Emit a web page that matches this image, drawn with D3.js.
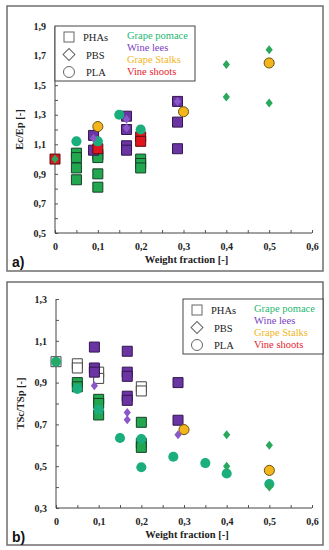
<!DOCTYPE html>
<html>
<head>
<meta charset="utf-8">
<script src="https://cdn.jsdelivr.net/npm/d3@7"></script>
<style>
  body { margin: 0; background: #fff; }
  svg { display: block; }
  .tick text { font-family: "Liberation Serif", serif; font-weight: bold; font-size: 10px; fill: #222; }
  .lbl { font-family: "Liberation Serif", serif; font-weight: bold; font-size: 10.5px; fill: #222; }
</style>
</head>
<body>
<div id="chart"></div>
<script>
// ---- data ----
const xTicks = [0, 0.1, 0.2, 0.3, 0.4, 0.5, 0.6];
const yTicksA = [0.5, 0.7, 0.9, 1.1, 1.3, 1.5, 1.7, 1.9];
const yTicksB = [0.3, 0.5, 0.7, 0.9, 1.1, 1.3];

// panel a: Ec/Ep
const aPhaPomace = [[0.05,1.04],[0.05,1.01],[0.05,0.94],[0.05,0.86],[0.1,1.03],[0.1,1.01],[0.1,0.9],[0.1,0.81],[0.2,1.0],[0.2,0.97],[0.2,0.94]];
const aPhaLees = [[0.09,1.16],[0.09,1.06],[0.167,1.29],[0.167,1.2],[0.167,1.09],[0.167,1.06],[0.286,1.39],[0.286,1.25],[0.286,1.07]];
const aPhaShoots = [[0,1.0],[0.1,1.07],[0.2,1.15],[0.2,1.12]];
const aPbsPomace = [[0,1.0],[0.4,1.64],[0.4,1.42],[0.5,1.74],[0.5,1.38]];
const aPbsLees = [[0.09,1.14],[0.167,1.27],[0.167,1.21],[0.286,1.39]];
const aPlaPomace = [[0.05,1.12],[0.1,1.12],[0.15,1.3],[0.2,1.2]];
const aPlaStalks = [[0.1,1.22],[0.3,1.32],[0.5,1.65]];

// panel b: TSc/TSp
const bPhaPlain = [[0,1.0],[0.05,0.99],[0.05,0.97],[0.1,0.95],[0.1,0.92],[0.2,0.88],[0.2,0.86]];
const bPhaPomace = [[0.05,0.9],[0.05,0.88],[0.1,0.82],[0.1,0.8],[0.1,0.745],[0.2,0.71],[0.2,0.61],[0.2,0.59]];
const bPhaLees = [[0.09,1.07],[0.09,0.97],[0.09,0.95],[0.167,1.05],[0.167,0.95],[0.167,0.93],[0.167,0.835],[0.167,0.815],[0.286,0.9],[0.286,0.72]];
const bPbsPomace = [[0,1.0],[0.4,0.65],[0.4,0.5],[0.5,0.6],[0.5,0.4]];
const bPbsLees = [[0.09,0.885],[0.167,0.757],[0.167,0.722],[0.286,0.65]];
const bPlaPomace = [[0,1.0],[0.05,0.87],[0.1,0.77],[0.15,0.635],[0.2,0.63],[0.2,0.495],[0.275,0.545],[0.35,0.515],[0.4,0.465],[0.5,0.415]];
const bPlaStalks = [[0.3,0.675],[0.5,0.48]];

const polymers = ["PHAs", "PBS", "PLA"];
const fillers = ["Grape pomace", "Wine lees", "Grape Stalks", "Vine shoots"];
const fillerColors = ["#1fb873", "#7a3cc4", "#f2b51c", "#e8212b"];

// ---- marker styles ----
const st = {
  sqGreen: { shape: "square", fill: "#22a64e", stroke: "#15402a" },
  sqPurple: { shape: "square", fill: "#6a34a2", stroke: "#33174f" },
  sqRed: { shape: "square", fill: "#e0161e", stroke: "#5a0f10" },
  sqHollow: { shape: "square", fill: "#fff", stroke: "#444" },
  ciGreen: { shape: "circle", fill: "#19ae7c", stroke: "none" },
  ciYellow: { shape: "circle", fill: "#f2b51c", stroke: "#6a5210" },
  diGreen: { shape: "diamond", fill: "#2aa85e", stroke: "none" },
  diPurple: { shape: "diamond", fill: "#8a58c8", stroke: "none" }
};

const W = 329, H = 550;
const svg = d3.select("#chart").append("svg").attr("width", W).attr("height", H);

function panel(cfg) {
  const g = svg.append("g");
  g.append("rect").attr("x", cfg.frame[0]).attr("y", cfg.frame[1])
    .attr("width", cfg.frame[2]).attr("height", cfg.frame[3])
    .attr("fill", "none").attr("stroke", "#6e6e6e").attr("stroke-width", 1.5);

  const x = d3.scaleLinear().domain([0, 0.6]).range([cfg.left, cfg.right]);
  const y = d3.scaleLinear().domain(cfg.yDomain).range([cfg.bottom, cfg.top]);

  // minor (inward) ticks
  const xMinor = d3.range(0, 0.6001, 0.05);
  const yMinor = d3.range(cfg.yDomain[0], cfg.yDomain[1] + 0.0001, 0.1);
  g.append("g").attr("transform", `translate(0,${cfg.bottom})`)
    .call(d3.axisBottom(x).tickValues(xMinor).tickSize(-3).tickFormat(""))
    .call(a => a.selectAll("line").attr("stroke", "#555"))
    .call(a => a.select(".domain").remove());
  g.append("g").attr("transform", `translate(${cfg.left},0)`)
    .call(d3.axisLeft(y).tickValues(yMinor).tickSize(-3).tickFormat(""))
    .call(a => a.selectAll("line").attr("stroke", "#555"))
    .call(a => a.select(".domain").remove());

  const fmt = d => d === 0 ? "0" : d3.format(".1f")(d).replace(".", ",");
  g.append("g").attr("transform", `translate(0,${cfg.bottom})`)
    .call(d3.axisBottom(x).tickValues(xTicks).tickSize(0).tickPadding(10).tickFormat(fmt))
    .call(a => a.select(".domain").attr("stroke", "#444").attr("d", `M${cfg.left},0H${cfg.right}`));
  g.append("g").attr("transform", `translate(${cfg.left},0)`)
    .call(d3.axisLeft(y).tickValues(cfg.yTicks).tickSize(0).tickPadding(9).tickFormat(fmt))
    .call(a => a.select(".domain").attr("stroke", "#444").attr("d", `M0,${cfg.top}V${cfg.bottom}`));

  // labels
  g.append("text").attr("class", "lbl").attr("text-anchor", "middle")
    .attr("x", (cfg.left + cfg.right) / 2 + 3).attr("y", cfg.bottom + 30).text("Weight fraction [-]");
  g.append("text").attr("class", "lbl").attr("text-anchor", "middle")
    .attr("transform", `translate(${cfg.left - 32},${(cfg.top + cfg.bottom) / 2}) rotate(-90)`)
    .text(cfg.yLabel);
  g.append("text").attr("x", 12).attr("y", cfg.bottom + 34)
    .attr("font-family", "'Liberation Sans', Arial, sans-serif").attr("font-weight", "bold")
    .attr("font-size", 14).attr("fill", "#111").text(cfg.tag);

  // legend
  const L = cfg.legend;
  g.append("rect").attr("x", L.x).attr("y", L.y).attr("width", L.w).attr("height", L.h)
    .attr("fill", "#fff").attr("stroke", "#444").attr("stroke-width", 1);
  polymers.forEach((p, i) => {
    const cy = L.y + 11 + i * 17.5;
    const sx = L.x + 14;
    if (i === 0) g.append("rect").attr("x", sx - 5).attr("y", cy - 5).attr("width", 10).attr("height", 10)
      .attr("fill", "none").attr("stroke", "#666");
    if (i === 1) g.append("path").attr("transform", `translate(${sx},${cy}) rotate(45)`)
      .attr("d", "M-4.2,-4.2H4.2V4.2H-4.2Z").attr("fill", "none").attr("stroke", "#666");
    if (i === 2) g.append("circle").attr("cx", sx).attr("cy", cy).attr("r", 5.5)
      .attr("fill", "none").attr("stroke", "#666");
    g.append("text").attr("x", L.x + 28 + (i === 0 ? 0 : 3)).attr("y", cy + 4)
      .attr("font-family", "'Liberation Serif', serif").attr("font-size", 10.5)
      .attr("fill", "#222").text(p);
  });
  fillers.forEach((f, i) => {
    g.append("text").attr("x", L.x + L.tx).attr("y", L.y + 13 + i * 12)
      .attr("font-family", "'Liberation Serif', serif").attr("font-size", 10.5)
      .attr("fill", fillerColors[i]).text(f);
  });

  // points: squares first, then circles, then diamonds
  const order = { square: 0, circle: 1, diamond: 2 };
  const sets = cfg.series.slice().sort((a, b) => order[a[1].shape] - order[b[1].shape]);
  sets.forEach(([data, s]) => {
    const sel = g.append("g").selectAll("path").data(data).join("path")
      .attr("transform", d => `translate(${x(d[0])},${y(d[1])})`)
      .attr("fill", s.fill).attr("stroke", s.stroke).attr("stroke-width", 1);
    if (s.shape === "square") sel.attr("d", "M-5,-5H5V5H-5Z");
    if (s.shape === "circle") sel.attr("d", d3.symbol(d3.symbolCircle, 80)());
    if (s.shape === "diamond") sel.attr("d", "M0,-4.5L3.6,0L0,4.5L-3.6,0Z");
  });
}

panel({
  frame: [7, 6, 316, 265],
  left: 55, right: 312, top: 26, bottom: 233,
  yDomain: [0.5, 1.9], yTicks: yTicksA, yLabel: "Ec/Ep [-]", tag: "a)",
  legend: { x: 55, y: 26, w: 140, h: 55, tx: 72 },
  series: [
    [aPhaPomace, st.sqGreen], [aPhaLees, st.sqPurple], [aPhaShoots, st.sqRed],
    [aPlaPomace, st.ciGreen], [aPlaStalks, st.ciYellow],
    [aPbsPomace, st.diGreen], [aPbsLees, st.diPurple]
  ]
});

panel({
  frame: [7, 282, 316, 263],
  left: 56, right: 312, top: 299, bottom: 508,
  yDomain: [0.3, 1.3], yTicks: yTicksB, yLabel: "TSc/TSp [-]", tag: "b)",
  legend: { x: 183, y: 299, w: 140, h: 55, tx: 71 },
  series: [
    [bPhaPlain, st.sqHollow], [bPhaPomace, st.sqGreen], [bPhaLees, st.sqPurple],
    [bPlaPomace, st.ciGreen], [bPlaStalks, st.ciYellow],
    [bPbsPomace, st.diGreen], [bPbsLees, st.diPurple]
  ]
});
</script>
</body>
</html>
